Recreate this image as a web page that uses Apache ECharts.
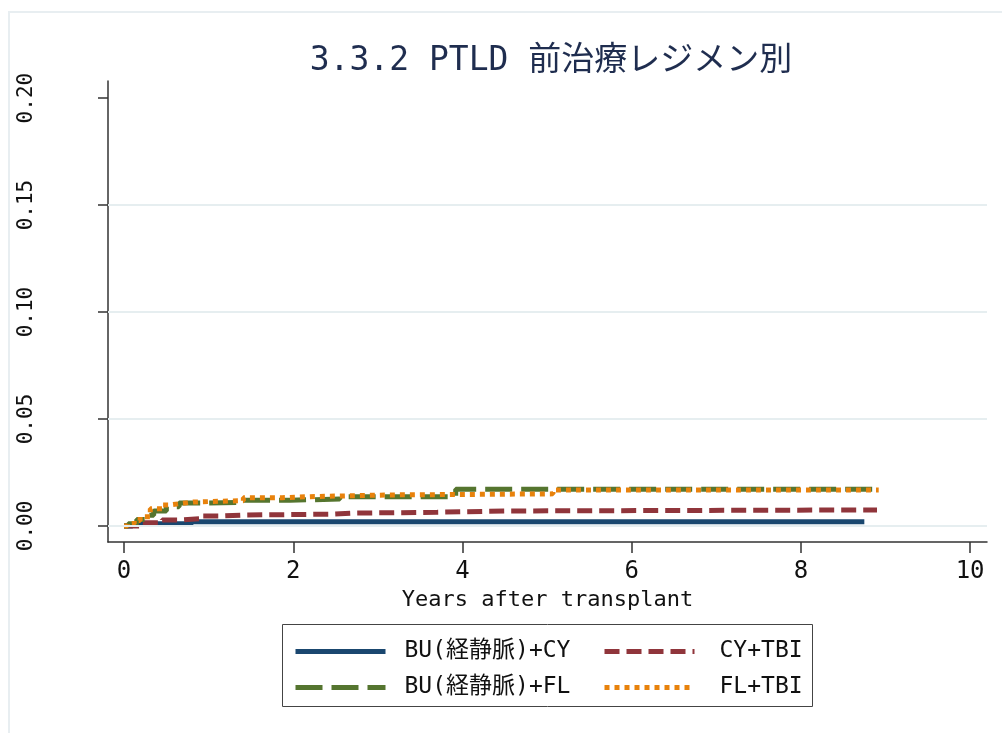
<!DOCTYPE html>
<html><head><meta charset="utf-8">
<script src="https://cdn.jsdelivr.net/npm/echarts@6/dist/echarts.min.js"></script>
<style>html,body{margin:0;padding:0;background:#fff;}#c{width:1002px;height:733px;}</style>
</head><body><div id="c"></div>
<script>
const seriesNames = ['BU(経静脈)+CY', 'BU(経静脈)+FL', 'CY+TBI', 'FL+TBI'];
const xTicks = [0, 2, 4, 6, 8, 10];
const yTicks = [0, 0.05, 0.10, 0.15, 0.20];
const gridValues = [0, 0.05, 0.10, 0.15];

const buCyYears = [0, 0.1, 0.8, 8.75];
const buCyValues = [0, 0.001, 0.002, 0.002];

const buFlYears = [0, 0.05, 0.15, 0.25, 0.35, 0.5, 0.65, 1.0, 1.37, 1.96, 2.55, 3.92, 8.92];
const buFlValues = [0, 0.001, 0.003, 0.005, 0.007, 0.009, 0.0107, 0.011, 0.012, 0.0126, 0.0137, 0.0172, 0.0172];

const cyTbiYears = [0, 0.2, 0.45, 0.68, 0.92, 1.16, 1.4, 2.44, 2.7, 3.7, 4.56, 8.9];
const cyTbiValues = [0, 0.0015, 0.0028, 0.0034, 0.0047, 0.0051, 0.0055, 0.006, 0.0064, 0.007, 0.0075, 0.0075];

const flTbiYears = [0, 0.04, 0.12, 0.19, 0.31, 0.45, 0.54, 0.69, 0.82, 1.41, 1.87, 2.2, 3.14, 5.07, 8.92];
const flTbiValues = [0, 0.001, 0.0025, 0.0043, 0.008, 0.0098, 0.0106, 0.0112, 0.0118, 0.0132, 0.0137, 0.0145, 0.015, 0.0168, 0.0168];

const zip = (xs, ys) => xs.map((x, i) => [x, ys[i]]);
const mono = "'DejaVu Sans Mono', 'Noto Sans CJK JP', monospace";

const chart = echarts.init(document.getElementById('c'), null, {renderer: 'canvas'});
function lineSeries(name, data, color, type, width) {
  return {
    name, type: 'line', step: 'end', data, symbol: 'none', z: 3,
    lineStyle: {color, width, type, cap: 'butt'}, itemStyle: {color},
    emphasis: {disabled: true}, animation: false
  };
}
function legendCol(left, names, textPad) {
  return {
    left, top: 640, orient: 'vertical', padding: 0,
    itemGap: 13, itemWidth: 90, itemHeight: 24,
    selectedMode: false,
    itemStyle: {opacity: 0},
    lineStyle: {width: 5, cap: 'butt'},
    textStyle: {fontFamily: mono, fontSize: 23, color: '#111', padding: [0, 0, 0, textPad]},
    data: names
  };
}
chart.setOption({
  backgroundColor: '#ffffff',
  animation: false,
  graphic: [
    {type: 'rect', shape: {x: 9, y: 12, width: 1100, height: 800},
     style: {fill: 'none', stroke: '#e8eef1', lineWidth: 2}, silent: true, z: -1},
    {type: 'rect', shape: {x: 282.5, y: 624.5, width: 530, height: 82},
     style: {fill: 'none', stroke: '#444', lineWidth: 1}, silent: true, z: 5}
  ],
  title: {
    text: '3.3.2 PTLD 前治療レジメン別', left: 546, top: 40, textAlign: 'center',
    textStyle: {fontFamily: mono, fontSize: 33, fontWeight: 'normal', color: '#1f2d4f'}
  },
  grid: {left: 108, right: 15, top: 81, bottom: 191, containLabel: false},
  xAxis: {
    type: 'value', min: -0.19, max: 10.2,
    name: 'Years after transplant', nameLocation: 'middle', nameGap: 45,
    nameTextStyle: {fontFamily: mono, fontSize: 22, color: '#111'},
    axisLine: {onZero: false, lineStyle: {color: '#333', width: 1.5}},
    axisTick: {customValues: xTicks, length: 11, lineStyle: {color: '#333', width: 1.5}},
    axisLabel: {customValues: xTicks, margin: 18, fontFamily: mono, fontSize: 24, color: '#111'},
    splitLine: {show: false}
  },
  yAxis: {
    type: 'value', min: -0.0075, max: 0.208,
    axisLine: {onZero: false, lineStyle: {color: '#333', width: 1.5}},
    axisTick: {customValues: yTicks, length: 10, lineStyle: {color: '#333', width: 1.5}},
    axisLabel: {customValues: yTicks, rotate: 90, margin: 71, fontFamily: mono, fontSize: 21, color: '#111',
      formatter: v => v.toFixed(2)},
    splitLine: {show: false}
  },
  legend: [
    legendCol(293, [seriesNames[0], seriesNames[1]], 14),
    legendCol(602, [seriesNames[2], seriesNames[3]], 20)
  ],
  series: [
    {
      name: 'grid', type: 'line', data: [], z: 1, silent: true,
      markLine: {silent: true, symbol: 'none', label: {show: false}, animation: false,
        lineStyle: {color: '#e6eef0', width: 2, type: 'solid'},
        data: gridValues.map(v => ({yAxis: v}))}
    },
    lineSeries(seriesNames[0], zip(buCyYears, buCyValues), '#1a476f', 'solid', 5),
    lineSeries(seriesNames[2], zip(cyTbiYears, cyTbiValues), '#90353b', [15, 7], 5),
    lineSeries(seriesNames[1], zip(buFlYears, buFlValues), '#55752f', [27, 9], 5),
    lineSeries(seriesNames[3], zip(flTbiYears, flTbiValues), '#e8820c', [5, 5], 5)
  ]
});
</script></body></html>
